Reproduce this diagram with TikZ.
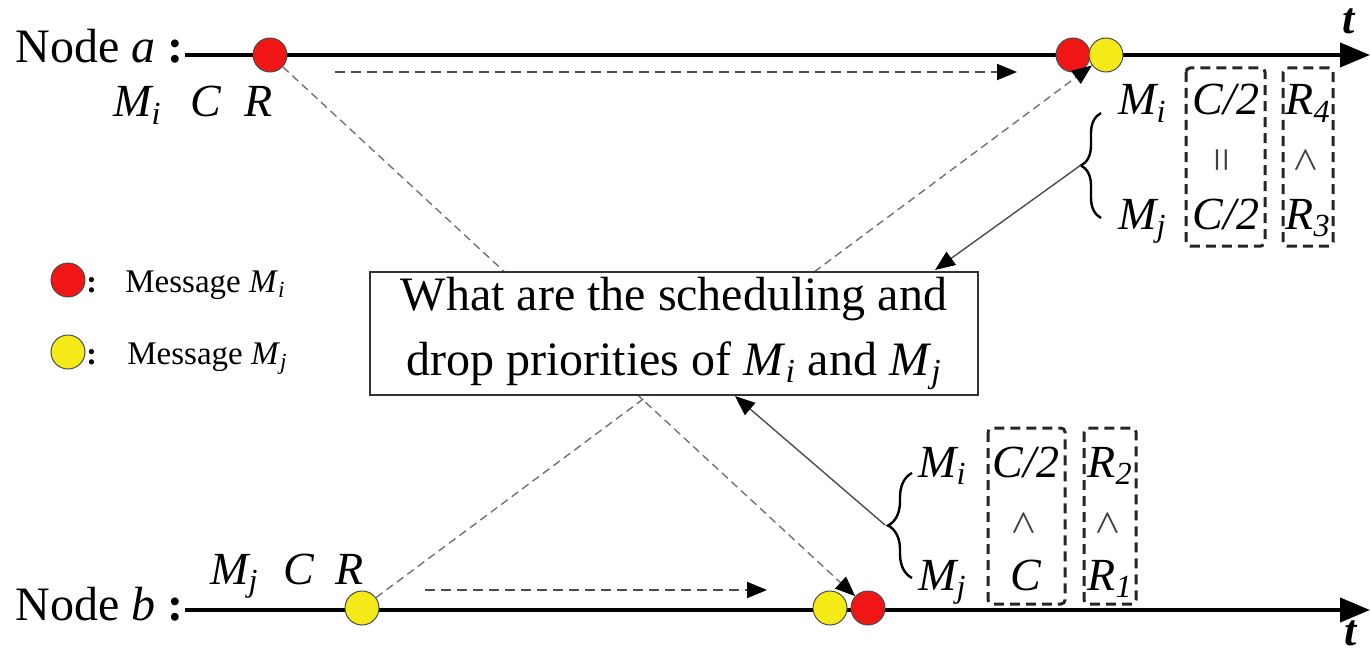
\documentclass[tikz,border=0pt]{standalone}
\usepackage{fontspec}
\setmainfont{Liberation Serif}
\usetikzlibrary{arrows.meta,decorations.pathreplacing}
\definecolor{mred}{RGB}{240,22,22}
\definecolor{myel}{RGB}{244,234,24}
\begin{document}
\begin{tikzpicture}[x=0.5pt,y=-0.5pt,
  circ/.style={circle, draw=black!70, line width=0.5pt, inner sep=0pt, minimum size=17pt},
  axis/.style={line width=2pt, -{Triangle[length=15pt,width=12pt]}},
  flow/.style={draw=black!70, line width=1pt, dash pattern=on 5pt off 3pt, -{Triangle[length=10pt,width=8pt,color=black]}},
  diag/.style={draw=black!55, line width=0.7pt, dash pattern=on 4pt off 2.5pt, -{Triangle[length=10pt,width=8pt,color=black]}},
  solidarr/.style={draw=black!70, line width=0.7pt, -{Triangle[length=10pt,width=8pt,color=black]}},
  dbox/.style={draw=black!85, line width=1.5pt, dash pattern=on 5pt off 3pt, rounded corners=2pt},
  lab/.style={font=\fontsize{23}{27}\selectfont\itshape, inner sep=0pt},
  rel/.style={font=\fontsize{22}{22}\selectfont, inner sep=0pt, text=black!75},
  big/.style={font=\fontsize{24}{28}\selectfont, inner sep=0pt},
  leg/.style={font=\fontsize{16.5}{20}\selectfont, inner sep=0pt},
  brc/.style={decorate, line width=1.2pt}
]
\useasboundingbox (0,0) rectangle (1370,658);

% axes
\coordinate (a0) at (185,55);
\coordinate (a1) at (1370,55);
\coordinate (b0) at (185,610);
\coordinate (b1) at (1370,610);
\draw[axis] (a0) -- (a1);
\draw[axis] (b0) -- (b1);
\node[big, anchor=base west] (na) at (15,63) {Node \textit{a} \textbf{:}};
\node[big, anchor=base west] (nb) at (15,620) {Node \textit{b} \textbf{:}};
\node[big, anchor=base, font=\fontsize{22}{26}\selectfont\bfseries\itshape] (ta) at (1349,34) {t};
\node[big, anchor=base, font=\fontsize{22}{26}\selectfont\bfseries\itshape] (tb) at (1351,645) {t};

% messages
\node[circ, fill=mred] (ra) at (270,55) {};
\node[circ, fill=mred] (ra2) at (1073,55) {};
\node[circ, fill=myel] (ya2) at (1106,55) {};
\node[circ, fill=myel] (yb) at (362,608) {};
\node[circ, fill=myel] (yb2) at (830,608) {};
\node[circ, fill=mred] (rb2) at (868,608) {};

% labels near senders
\node[lab, anchor=base west] (l1) at (113,117) {M\textsubscript{i}};
\node[lab, anchor=base west] (l2) at (190,117) {C};
\node[lab, anchor=base west] (l3) at (244,117) {R};
\node[lab, anchor=base west] (l4) at (210,584) {M\textsubscript{j}};
\node[lab, anchor=base west] (l5) at (283,584) {C};
\node[lab, anchor=base west] (l6) at (335,584) {R};

% horizontal dashed arrows
\coordinate (h1s) at (335,72);
\coordinate (h1e) at (1017,72);
\coordinate (h2s) at (425,590);
\coordinate (h2e) at (767,590);
\draw[flow] (h1s) -- (h1e);
\draw[flow] (h2s) -- (h2e);

% diagonal transmissions
\draw[diag] (ra) -- (rb2);
\draw[diag] (yb) -- (ya2);

% question box
\node[draw=black!80, line width=1pt, fill=white, minimum width=304pt, minimum height=61.5pt,
      inner sep=0pt, align=center, font=\fontsize{24}{32.5}\selectfont] (q) at (674,333.5)
  {What are the scheduling and\\drop priorities of \textit{M}\textsubscript{\textit{i}} and \textit{M}\textsubscript{\textit{j}}};

% legend
\node[circ, fill=mred] (lr) at (68,280) {};
\node[circ, fill=myel] (ly) at (68,352) {};
\node[leg, anchor=base west, font=\fontsize{16}{20}\selectfont\bfseries] (lc1) at (86,292) {:};
\node[leg, anchor=base west, font=\fontsize{16}{20}\selectfont\bfseries] (lc2) at (86,364) {:};
\node[leg, anchor=base west] (lt1) at (125,292) {Message \textit{M}\textsubscript{\textit{i}}};
\node[leg, anchor=base west] (lt2) at (127,364) {Message \textit{M}\textsubscript{\textit{j}}};

% top-right comparison
\draw[brc, decoration={brace, amplitude=10pt}] (1101,218) -- (1101,113);
\coordinate (br1) at (1081,165);
\node[lab, anchor=base west] (tm1) at (1118,115) {M\textsubscript{i}};
\node[lab, anchor=base west] (tm2) at (1118,229) {M\textsubscript{j}};
\node[lab, anchor=base] (tc1) at (1226,115) {C/2};
\node[lab, anchor=base] (tc2) at (1226,229) {C/2};
\node[rel] (te) at (1226,160) {\rotatebox{90}{=}};
\node[lab, anchor=base] (tr1) at (1308,115) {R\textsubscript{4}};
\node[lab, anchor=base] (tr2) at (1308,229) {R\textsubscript{3}};
\node[rel] (tw) at (1308,160) {\rotatebox{90}{>}};
\draw[dbox] (1186,68) rectangle (1265,246);
\draw[dbox] (1283,68) rectangle (1333,246);

% bottom-right comparison
\draw[brc, decoration={brace, amplitude=12pt}] (912,578) -- (912,473);
\coordinate (br2) at (885,525);
\node[lab, anchor=base west] (bm1) at (918,477) {M\textsubscript{i}};
\node[lab, anchor=base west] (bm2) at (918,590) {M\textsubscript{j}};
\node[lab, anchor=base] (bc1) at (1026,477) {C/2};
\node[lab, anchor=base] (bc2) at (1026,590) {C};
\node[rel] (bw1) at (1026,523) {\rotatebox{90}{>}};
\node[lab, anchor=base] (br1t) at (1110,477) {R\textsubscript{2}};
\node[lab, anchor=base] (br2t) at (1110,590) {R\textsubscript{1}};
\node[rel] (bw2) at (1110,523) {\rotatebox{90}{>}};
\draw[dbox] (988,428) rectangle (1065,604);
\draw[dbox] (1084,428) rectangle (1136,604);

% solid arrows to the question
\coordinate (qa) at (935,270);
\coordinate (qb) at (735,396);
\draw[solidarr] (br1) -- (qa);
\draw[solidarr] (br2) -- (qb);
\end{tikzpicture}
\end{document}
